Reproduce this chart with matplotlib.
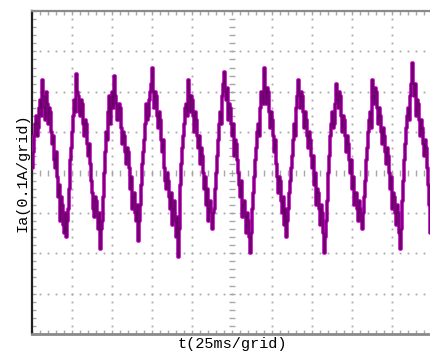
import numpy as np
import matplotlib
matplotlib.use('Agg')
import matplotlib.pyplot as plt

# scope trace, in grid units (1 grid = 0.1 A), one sample per 0.025 grid
SAMPLE_STEP = 0.025
ia_grid = [
    0.1, 0.5, 0.9, 1.2, 1.4, 0.9, 1.1, 1.6, 1.8, 1.4,
    2.3, 1.9, 1.6, 1.3, 2.0, 1.7, 1.2, 1.6, 1.5, 1.0,
    0.7, 0.9, 0.3, 0.1, 0.5, -0.1, -0.6, -0.3, -1.2, -0.6,
    -0.8, -1.3, -1.5, -1.0, -1.6, -1.2, -0.9, -0.4, 0.3, 0.6,
    1.0, 1.4, 1.8, 1.5, 2.45, 2.0, 1.9, 1.5, 1.4, 1.8,
    1.7, 1.2, 0.9, 1.3, 1.2, 0.7, 0.4, 0.7, 0.2, -0.2,
    -0.5, -0.9, -1.1, -0.6, -0.7, -1.1, -1.4, -1.0, -1.9, -1.4,
    -1.2, -0.6, 0.0, 0.5, 1.0, 0.8, 1.5, 1.9, 1.2, 1.6,
    2.0, 1.6, 2.4, 1.9, 1.7, 1.3, 1.3, 1.7, 1.6, 1.1,
    0.7, 1.0, 0.9, 0.5, 0.2, 0.6, 0.5, 0.1, -0.4, -0.1,
    -0.9, -0.6, -0.5, -1.0, -1.2, -0.8, -1.7, -1.2, -0.8, -0.3,
    0.2, 0.5, 0.8, 1.2, 1.7, 1.3, 1.4, 1.8, 2.0, 2.2,
    2.6, 2.0, 1.6, 2.0, 1.9, 1.4, 1.1, 1.5, 1.3, 0.8,
    0.5, 0.8, 0.1, -0.2, -0.4, 0.0, -0.2, -0.6, -0.9, -0.5,
    -1.3, -0.9, -0.7, -1.2, -1.6, -1.1, -2.1, -1.4, -0.3, 0.2,
    0.6, 0.9, 1.2, 1.6, 1.7, 1.4, 2.3, 1.9, 1.5, 1.9,
    1.8, 1.4, 1.0, 1.5, 1.3, 0.9, 0.6, 0.9, 0.2, 0.6,
    0.4, 0.0, -0.4, -0.1, -0.8, -0.4, -1.2, -0.9, -0.7, -1.0,
    -1.4, -1.0, -0.9, -0.4, 0.0, 0.4, 0.8, 1.2, 1.5, 1.2,
    1.9, 2.2, 2.5, 2.0, 1.8, 2.1, 1.3, 1.7, 1.6, 1.2,
    0.9, 1.2, 0.4, 0.8, 0.7, 0.3, 0.0, -0.3, -0.6, -0.2,
    -1.1, -0.8, -0.7, -1.1, -1.5, -1.0, -1.2, -1.6, -2.0, -1.5,
    -0.9, -0.5, -0.1, 0.3, 0.6, 1.0, 1.2, 0.9, 1.6, 2.0,
    2.0, 1.7, 2.6, 2.1, 1.7, 2.1, 2.0, 1.5, 1.1, 1.5,
    1.3, 0.9, 0.5, 0.8, 0.2, -0.1, -0.5, -0.1, -0.2, -0.7,
    -1.0, -0.6, -1.3, -0.9, -1.6, -1.2, -0.9, -0.5, -0.2, 0.1,
    0.4, 0.8, 1.2, 0.9, 1.6, 1.9, 2.3, 1.9, 1.6, 2.0,
    1.9, 1.5, 1.1, 1.5, 1.3, 0.9, 0.6, 1.0, 0.8, 0.4,
    0.1, 0.4, -0.3, 0.0, -0.8, -0.4, -0.5, -0.9, -1.3, -0.8,
    -1.0, -1.5, -2.0, -1.6, -1.2, -0.7, 0.0, 0.4, 0.9, 1.2,
    1.5, 1.1, 1.2, 1.7, 2.2, 1.8, 1.6, 2.0, 1.9, 1.4,
    1.0, 1.4, 1.3, 0.9, 0.5, 0.9, 0.7, 0.3, 0.0, 0.3,
    -0.4, -0.1, -0.8, -0.5, -0.5, -0.9, -1.2, -0.7, -0.9, -1.2,
    -1.4, -1.0, -0.6, -0.2, 0.3, 0.6, 1.0, 1.3, 1.5, 1.1,
    2.3, 1.9, 1.7, 2.1, 2.0, 1.6, 1.2, 1.6, 1.4, 1.0,
    0.7, 1.1, 0.9, 0.5, 0.2, 0.6, 0.4, 0.0, -0.4, -0.1,
    -0.9, -0.5, -0.6, -1.0, -1.3, -0.8, -1.0, -1.5, -1.9, -1.4,
    -0.7, -0.2, 0.3, 0.7, 1.1, 1.4, 1.6, 1.3, 1.9, 2.2,
    2.7, 2.2, 1.9, 2.2, 1.4, 1.8, 1.7, 1.3, 0.9, 1.3,
    1.1, 0.7, 0.4, 0.8, 0.6, 0.1, -0.3, -0.8, -1.5, -1.1,
    -0.9,
]

x_label = 't(25ms/grid)'
y_label = 'Ia(0.1A/grid)'

n_xdiv = 10
n_ydiv = 4   # grids above / below centre

grid_col = '#a8a8a8'
t = np.arange(len(ia_grid)) * SAMPLE_STEP

fig = plt.figure(figsize=(4.3, 3.58), dpi=100)
ax = fig.add_axes([32 / 430, 24 / 358, 400 / 430, 323 / 358])
ax.set_xlim(0, n_xdiv)
ax.set_ylim(-n_ydiv, n_ydiv)

# dotted graticule
minor = np.arange(0, n_xdiv + 0.01, 0.2)
minor_y = np.arange(-n_ydiv, n_ydiv + 0.01, 0.2)
for gx in range(1, n_xdiv):
    if gx == n_xdiv // 2:
        continue
    ax.plot(np.full_like(minor_y, gx), minor_y, ls='none', marker='s', ms=1.3,
            mfc=grid_col, mec='none', zorder=1)
for gy in range(-n_ydiv + 1, n_ydiv):
    if gy == 0:
        continue
    ax.plot(minor, np.full_like(minor, gy), ls='none', marker='s', ms=1.3,
            mfc=grid_col, mec='none', zorder=1)
# centre lines carry tick marks
ax.plot(np.full_like(minor_y, n_xdiv / 2), minor_y, ls='none', marker='_', ms=4,
        mew=1.0, color=grid_col, zorder=1)
ax.plot(minor, np.zeros_like(minor), ls='none', marker='|', ms=4,
        mew=1.0, color=grid_col, zorder=1)

# trace: bright edge + dark core
ax.plot(t, ia_grid, drawstyle='steps-post', color='#c000c0', lw=2.6, zorder=3)
ax.plot(t, ia_grid, drawstyle='steps-post', color='#680068', lw=1.1, zorder=4)

ax.set_xticks(np.arange(0, n_xdiv + 1, 1))
ax.set_xticks(minor, minor=True)
ax.set_yticks(np.arange(-n_ydiv, n_ydiv + 1, 1))
ax.set_yticks(minor_y, minor=True)
ax.tick_params(which='both', direction='in', length=3, width=1, color=grid_col,
               top=True, bottom=True, left=True, right=False,
               labelbottom=False, labelleft=False)

ax.spines['left'].set_color('#202020')
ax.spines['left'].set_linewidth(1.6)
ax.spines['bottom'].set_color('#8a8a8a')
ax.spines['bottom'].set_linewidth(2.0)
ax.spines['top'].set_color('#8a8a8a')
ax.spines['top'].set_linewidth(1.6)
ax.spines['right'].set_visible(False)

ax.set_xlabel(x_label, family='Liberation Mono', fontsize=11, labelpad=2)
ax.set_ylabel(y_label, family='Liberation Mono', fontsize=11, labelpad=2)

fig.savefig('out.png', dpi=100)
